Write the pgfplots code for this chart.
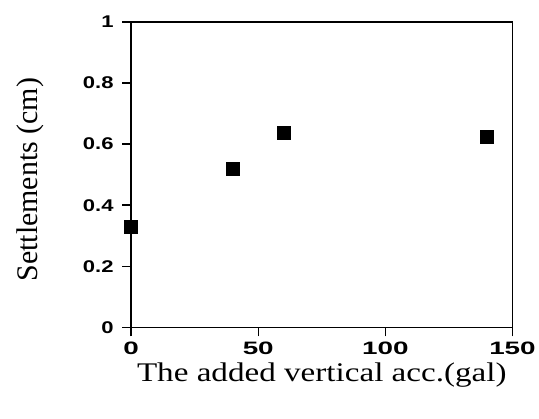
\documentclass[border=0pt]{standalone}
\usepackage{pgfplots}
\pgfplotsset{compat=1.18}
\usepackage{fontspec}
\setmainfont{Liberation Serif}
\newfontfamily\xtickfont[FakeStretch=1.55]{Liberation Sans}
\newfontfamily\ytickfont[FakeStretch=1.3]{Liberation Sans}
\newfontfamily\xlabfont[FakeStretch=1.23]{Liberation Serif}
\begin{document}
\begin{tikzpicture}
\begin{axis}[
  name=ax,
  scale only axis,
  width=381bp, height=305bp,
  xmin=0, xmax=150, ymin=0, ymax=1,
  xtick={0,50,100,150},
  ytick={0,0.2,0.4,0.6,0.8,1},
  yticklabels={0,0.2,0.4,0.6,0.8,1},
  xticklabels={0,50,100,150},
  tick align=outside,
  tick pos=left,
  major tick length=9bp,
  tick style={line width=1.4pt, black},
  axis line style={line width=1.6pt},
  xticklabel style={font=\xtickfont\bfseries\fontsize{18}{20}\selectfont, yshift=-2bp},
  yticklabel style={font=\ytickfont\bfseries\fontsize{17}{20}\selectfont, xshift=-5bp},
  xlabel={The added vertical acc.(gal)},
  ylabel={Settlements (cm)},
  xlabel style={font=\xlabfont\fontsize{27}{30}\selectfont, at={(axis description cs:0.5,-0.177)}, anchor=base},
  ylabel style={font=\fontsize{30}{32}\selectfont, at={(axis description cs:-0.2467,0.4836)}, anchor=base},
  clip=false,
]
\addplot[only marks, mark=square*, mark size=6.5bp, black] coordinates {
  (0,0.328) (40,0.521) (60,0.639) (140,0.623)
};
\end{axis}
\useasboundingbox ([xshift=-131bp,yshift=-91bp]ax.south west) rectangle ([xshift=26bp,yshift=22bp]ax.north east);
\end{tikzpicture}
\end{document}
